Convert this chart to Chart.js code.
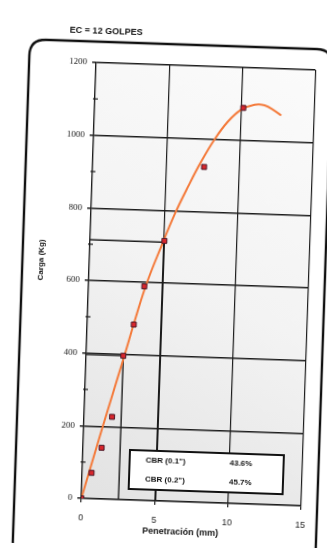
<!DOCTYPE html>
<html lang="es">
<head>
<meta charset="UTF-8">
<title>EC = 12 GOLPES</title>
<script src="https://cdn.jsdelivr.net/npm/chart.js"></script>
<style>
  html, body { margin: 0; padding: 0; background: #fff; overflow: hidden; }
  #cbrChart { display: block; transform: rotate(1.95deg); transform-origin: 50% 50%; }
</style>
</head>
<body>
<canvas id="cbrChart" width="327" height="548"></canvas>
<script>
// ensayo (puntos medidos)
const penetracion = [0, 0.64, 1.27, 1.91, 2.54, 3.18, 3.81, 5.08, 7.62, 10.16];
const carga = [0, 71, 141, 227, 396, 483, 589, 716, 923, 1089];
// curva de ajuste
const curvaPen = [0, 1.3, 2.61, 3.3, 3.97, 4.9, 5.74, 6.6, 7.4, 8.27, 9.14, 10.02, 10.92, 11.61, 12.31, 12.77];
const curvaCarga = [0, 200, 396, 503, 598, 703, 792, 870, 937, 1000, 1050, 1084, 1099, 1098, 1084, 1072];
// lineas de referencia CBR
const cbrPen = [2.54, 5.08];
const cbrCarga = [396, 712];
const cbrEtiquetas = ['CBR (0.1")', 'CBR (0.2")'];
const cbrValores = ['43.6%', '45.7%'];
const yMenores = [100, 300, 500, 700, 900, 1100];

const titulo = 'EC = 12 GOLPES';
const tituloX = 'Penetración (mm)';
const tituloY = 'Carga (Kg)';

const tinta = '#1c1c1c';

const refData = [];
cbrPen.forEach((p, i) => {
  refData.push({ x: 0, y: cbrCarga[i] }, { x: p, y: cbrCarga[i] }, { x: p, y: 0 });
  if (i < cbrPen.length - 1) refData.push({ x: NaN, y: NaN });
});

const fondo = {
  id: 'fondo',
  beforeDraw(chart) {
    const { ctx, chartArea: a } = chart;
    const g = ctx.createLinearGradient(a.left, a.bottom, a.right, a.top);
    g.addColorStop(0, '#e2e2e2');
    g.addColorStop(0.5, '#f3f3f3');
    g.addColorStop(1, '#fbfbfb');
    ctx.save();
    ctx.fillStyle = g;
    ctx.fillRect(a.left, a.top, a.right - a.left, a.bottom - a.top);
    ctx.restore();
  }
};

const extras = {
  id: 'extras',
  afterDraw(chart) {
    const ctx = chart.ctx;
    const y = chart.scales.y;
    const area = chart.chartArea;
    ctx.save();
    // marco redondeado
    ctx.strokeStyle = '#111';
    ctx.lineWidth = 2.4;
    const l = 22, t = 44, r = 325, rad = 16;
    ctx.beginPath();
    ctx.moveTo(l, 560);
    ctx.lineTo(l, t + rad);
    ctx.quadraticCurveTo(l, t, l + rad, t);
    ctx.lineTo(r - rad, t);
    ctx.quadraticCurveTo(r, t, r, t + rad);
    ctx.lineTo(r, 560);
    ctx.stroke();

    // marcas menores del eje Y
    ctx.strokeStyle = tinta;
    ctx.lineWidth = 1.2;
    yMenores.forEach(v => {
      const py = y.getPixelForValue(v);
      ctx.beginPath();
      ctx.moveTo(area.left - 2, py);
      ctx.lineTo(area.left + 3, py);
      ctx.stroke();
    });

    // textos
    ctx.fillStyle = '#111';
    ctx.textBaseline = 'middle';
    ctx.textAlign = 'center';
    ctx.font = 'bold 9px "Liberation Sans", Arial, sans-serif';
    ctx.fillText(titulo, 98, 34);
    ctx.font = 'bold 9px "Liberation Sans", Arial, sans-serif';
    ctx.fillText(tituloX, 189, 532);
    ctx.save();
    ctx.translate(41, 264);
    ctx.rotate(-Math.PI / 2);
    ctx.font = 'bold 8px "Liberation Sans", Arial, sans-serif';
    ctx.fillText(tituloY, 0, 0);
    ctx.restore();

    // cuadro CBR
    ctx.fillStyle = '#fff';
    ctx.fillRect(136, 451, 154, 39);
    ctx.strokeStyle = '#111';
    ctx.lineWidth = 2;
    ctx.strokeRect(136, 451, 154, 39);
    ctx.fillStyle = '#111';
    ctx.textAlign = 'left';
    ctx.font = 'bold 8px "Liberation Sans", Arial, sans-serif';
    cbrEtiquetas.forEach((e, i) => {
      ctx.fillText(e, 152, 461 + i * 19);
      ctx.fillText(cbrValores[i], 236, 461 + i * 19);
    });
    ctx.restore();
  }
};

new Chart(document.getElementById('cbrChart'), {
  type: 'scatter',
  data: {
    datasets: [
      {
        label: 'Ensayo',
        data: penetracion.map((x, i) => ({ x: x, y: carga[i] })),
        pointStyle: 'rect',
        pointRadius: 3.5,
        backgroundColor: '#d8262c',
        borderColor: '#4a1828',
        borderWidth: 1,
        showLine: false
      },
      {
        label: 'Curva',
        data: curvaPen.map((x, i) => ({ x: x, y: curvaCarga[i] })),
        showLine: true,
        pointRadius: 0,
        borderColor: '#f47a3a',
        borderWidth: 2,
        tension: 0.4
      },
      {
        label: 'Referencia',
        data: refData,
        showLine: true,
        spanGaps: false,
        pointRadius: 0,
        borderColor: tinta,
        borderWidth: 1.4,
        segment: {
          borderDash: c => (c.p0.parsed.y === c.p1.parsed.y ? [] : [3, 2])
        }
      }
    ]
  },
  options: {
    responsive: false,
    devicePixelRatio: 1,
    animation: false,
    layout: { padding: { top: 65, right: 18.6, left: 0, bottom: 0 } },
    plugins: { legend: { display: false }, tooltip: { enabled: false } },
    scales: {
      x: {
        type: 'linear',
        min: 0,
        max: 15,
        ticks: { stepSize: 5, padding: 10, color: '#222', font: { family: 'Liberation Sans', size: 9 } },
        grid: { color: tinta, lineWidth: 1.2, tickLength: 4 },
        border: { color: tinta, width: 1.2 },
        afterFit: s => { s.height = 47; }
      },
      y: {
        min: 0,
        max: 1200,
        ticks: {
          stepSize: 200, padding: 5, color: '#222',
          font: { family: 'Liberation Serif', size: 9 },
          callback: v => String(v)
        },
        grid: { color: tinta, lineWidth: 1.5, tickLength: 4 },
        border: { color: tinta, width: 1.2 },
        afterFit: s => { s.width = 89; }
      }
    }
  },
  plugins: [fondo, extras]
});
</script>
</body>
</html>
